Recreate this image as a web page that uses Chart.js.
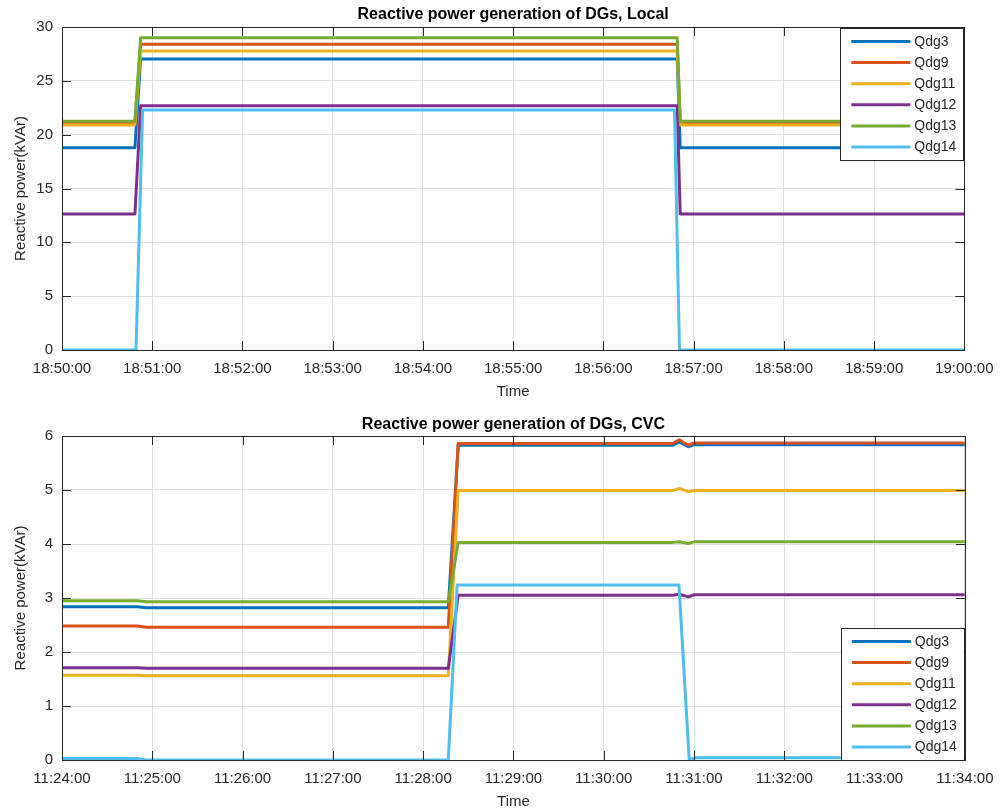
<!DOCTYPE html>
<html>
<head>
<meta charset="utf-8">
<script src="https://cdn.jsdelivr.net/npm/chart.js@4/dist/chart.umd.min.js"></script>
<style>
  body { margin: 0; background: #fff; }
  .panel { position: relative; width: 1003px; height: 406px; }
</style>
</head>
<body>
<div class="panel"><canvas id="localChart" width="1003" height="406"></canvas></div>
<div class="panel"><canvas id="cvcChart" width="1003" height="406"></canvas></div>
<script>
// series names and MATLAB default colours
const seriesNames = ['Qdg3', 'Qdg9', 'Qdg11', 'Qdg12', 'Qdg13', 'Qdg14'];
const seriesColors = ['#0072BD', '#D95319', '#EDB120', '#7E2F8E', '#77AC30', '#4DBEEE'];

// --- Local control (seconds after 18:50:00)
const localTimes = [0, 48.5, 52.3, 409.1, 411.1, 600];
const localTimesQdg14 = [0, 49.2, 53.6, 407.3, 410.6, 600];
const localQdg3 = [18.79, 18.79, 27.03, 27.03, 18.79, 18.79];
const localQdg9 = [21.1, 21.1, 28.39, 28.39, 21.1, 21.1];
const localQdg11 = [20.9, 20.9, 27.77, 27.77, 20.9, 20.9];
const localQdg12 = [12.63, 12.63, 22.69, 22.69, 12.63, 12.63];
const localQdg13 = [21.24, 21.24, 29.0, 29.0, 21.24, 21.24];
const localQdg14 = [0, 0, 22.29, 22.29, 0, 0];

// --- CVC (seconds after 11:24:00)
const cvcTimes = [0, 50, 56, 256.7, 263.3, 406, 410.2, 416.2, 420, 600];
const cvcTimesQdg14 = [0, 50, 56, 256.7, 262.6, 410, 416.8, 421, 600];
const cvcQdg3 = [2.84, 2.84, 2.82, 2.82, 5.83, 5.83, 5.89, 5.80, 5.84, 5.84];
const cvcQdg9 = [2.48, 2.48, 2.46, 2.46, 5.86, 5.86, 5.93, 5.83, 5.87, 5.87];
const cvcQdg11 = [1.57, 1.57, 1.56, 1.56, 4.99, 4.99, 5.03, 4.97, 4.99, 4.99];
const cvcQdg12 = [1.71, 1.71, 1.70, 1.70, 3.05, 3.05, 3.07, 3.02, 3.06, 3.06];
const cvcQdg13 = [2.95, 2.95, 2.93, 2.93, 4.03, 4.03, 4.04, 4.01, 4.04, 4.04];
const cvcQdg14 = [0.03, 0.03, 0, 0, 3.24, 3.24, 0.01, 0.04, 0.04];

const TEXT = '#262626';
const FONT = "'Liberation Sans', Arial, sans-serif";

function pts(times, vals) {
  return times.map((t, i) => ({ x: t, y: vals[i] }));
}

function makeDatasets(list) {
  return list.map((s, i) => ({
    label: seriesNames[i],
    data: pts(s[0], s[1]),
    borderColor: seriesColors[i],
    borderWidth: 3,
    pointRadius: 0,
    borderJoinStyle: 'round',
    fill: false,
    tension: 0,
    order: 6 - i
  }));
}

function clock(baseH, baseM) {
  return (v) => {
    const tot = baseH * 3600 + baseM * 60 + v;
    const h = Math.floor(tot / 3600), m = Math.floor((tot % 3600) / 60), s = Math.round(tot % 60);
    return [h, m, s].map(n => String(n).padStart(2, '0')).join(':');
  };
}

// box round the axes with inward ticks on all four sides, title centred on the axes
const framePlugin = {
  id: 'frame',
  afterDatasetsDraw(chart, args, opts) {
    const { ctx, chartArea: a, scales: { x, y } } = chart;
    ctx.save();
    ctx.strokeStyle = TEXT;
    ctx.lineWidth = 1;
    ctx.beginPath();
    x.ticks.forEach(t => {
      const px = Math.round(x.getPixelForValue(t.value)) + 0.5;
      ctx.moveTo(px, a.bottom); ctx.lineTo(px, a.bottom - 9);
      ctx.moveTo(px, a.top); ctx.lineTo(px, a.top + 9);
    });
    y.ticks.forEach(t => {
      const py = Math.round(y.getPixelForValue(t.value)) + 0.5;
      ctx.moveTo(a.left, py); ctx.lineTo(a.left + 9, py);
      ctx.moveTo(a.right, py); ctx.lineTo(a.right - 9, py);
    });
    ctx.stroke();
    ctx.strokeRect(Math.round(a.left) + 0.5, Math.round(a.top) + 0.5,
      Math.round(a.right - a.left), Math.round(a.bottom - a.top));

    ctx.fillStyle = '#000';
    ctx.font = 'bold 16px ' + FONT;
    ctx.textAlign = 'center';
    ctx.textBaseline = 'middle';
    ctx.fillText(opts.text, (a.left + a.right) / 2, opts.y);
    ctx.restore();
  }
};

// MATLAB-like legend box inside the axes
const boxLegend = {
  id: 'boxLegend',
  afterDraw(chart, args, opts) {
    const { ctx, chartArea: a } = chart;
    const w = 123, h = 132, rowH = 21.1;
    const left = a.right - 1 - w;
    const top = opts.where === 'top' ? a.top + 1 : a.bottom - h;
    ctx.save();
    ctx.fillStyle = '#fff';
    ctx.fillRect(left, top, w, h);
    ctx.strokeStyle = TEXT;
    ctx.lineWidth = 1;
    ctx.strokeRect(Math.round(left) + 0.5, Math.round(top) + 0.5, w, h);
    ctx.font = '14px ' + FONT;
    ctx.textBaseline = 'middle';
    ctx.fillStyle = TEXT;
    chart.data.datasets.forEach((ds, i) => {
      const cy = top + 13.5 + i * rowH;
      ctx.strokeStyle = ds.borderColor;
      ctx.lineWidth = 3;
      ctx.beginPath();
      ctx.moveTo(left + 11, cy); ctx.lineTo(left + 70, cy);
      ctx.stroke();
      ctx.fillText(ds.label, left + 74, cy + 0.5);
    });
    ctx.restore();
  }
};

function buildChart(id, cfg) {
  return new Chart(document.getElementById(id), {
    type: 'line',
    data: { datasets: cfg.datasets },
    plugins: [framePlugin, boxLegend],
    options: {
      responsive: false,
      animation: false,
      events: [],
      layout: { padding: { left: 0, right: 38, top: cfg.topPad, bottom: 0 } },
      scales: {
        x: {
          type: 'linear', min: 0, max: 600,
          afterFit: (s) => { s.height = cfg.xHeight; },
          grid: { color: '#dfdfdf', drawTicks: false },
          border: { display: false },
          ticks: { stepSize: 60, padding: 9.5, color: TEXT, font: { family: FONT, size: 15 }, maxRotation: 0, callback: cfg.fmt },
          title: { display: true, text: 'Time', color: TEXT, font: { family: FONT, size: 15 }, padding: { top: 0, bottom: cfg.xTitlePad } }
        },
        y: {
          min: 0, max: cfg.yMax,
          afterFit: (s) => { s.width = 62; },
          grid: { color: '#dfdfdf', drawTicks: false },
          border: { display: false },
          ticks: { stepSize: cfg.yStep, padding: 9, color: TEXT, font: { family: FONT, size: 15 } },
          title: { display: true, text: 'Reactive power(kVAr)', color: TEXT, font: { family: FONT, size: 15 }, padding: { top: 12, bottom: 0 } }
        }
      },
      plugins: {
        legend: { display: false },
        tooltip: { enabled: false },
        title: { display: false },
        boxLegend: { where: cfg.legend },
        frame: { text: cfg.title, y: cfg.titleY }
      }
    }
  });
}

buildChart('localChart', {
  datasets: makeDatasets([
    [localTimes, localQdg3], [localTimes, localQdg9], [localTimes, localQdg11],
    [localTimes, localQdg12], [localTimes, localQdg13], [localTimesQdg14, localQdg14]
  ]),
  title: 'Reactive power generation of DGs, Local',
  titleY: 15, topPad: 27,
  xHeight: 56, xTitlePad: 5,
  yMax: 30, yStep: 5,
  legend: 'top',
  fmt: clock(18, 50)
});

buildChart('cvcChart', {
  datasets: makeDatasets([
    [cvcTimes, cvcQdg3], [cvcTimes, cvcQdg9], [cvcTimes, cvcQdg11],
    [cvcTimes, cvcQdg12], [cvcTimes, cvcQdg13], [cvcTimesQdg14, cvcQdg14]
  ]),
  title: 'Reactive power generation of DGs, CVC',
  titleY: 19, topPad: 30,
  xHeight: 52, xTitlePad: 1,
  yMax: 6, yStep: 1,
  legend: 'bottom',
  fmt: clock(11, 24)
});
</script>
</body>
</html>
